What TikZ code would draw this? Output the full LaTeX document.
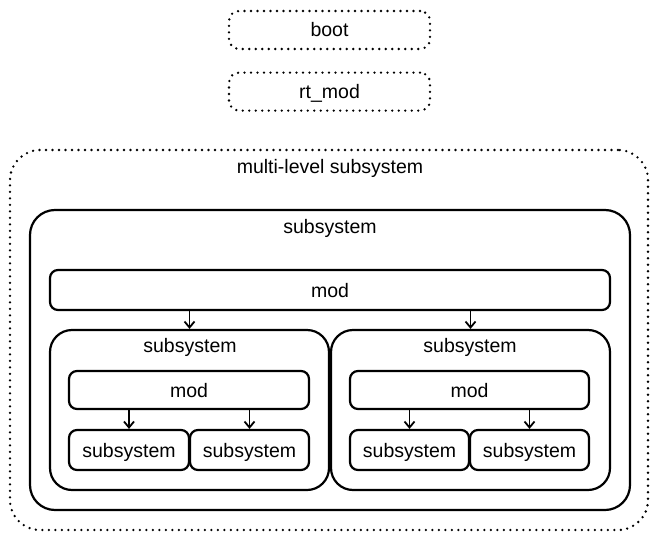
\documentclass[tikz,border=0pt]{standalone}
\usepackage{fontspec}
\setmainfont{Liberation Sans}
\usetikzlibrary{positioning,arrows.meta}

\tikzset{
	box/.style={draw, line width=2.2pt, rounded corners=#1, inner sep=0pt, text height=16pt, text depth=2pt},
	box/.default=8pt,
	dotbox/.style={draw, line width=2.6pt, line cap=round, dash pattern=on 0pt off 6.5pt, rounded corners=#1, inner sep=0pt, text height=16pt, text depth=2pt},
	dotbox/.default=10pt,
	lbl/.style={inner sep=0pt, text height=16pt, text depth=2pt},
	link/.style={line width=1.8pt, -{Straight Barb[length=6pt, width=10pt]}},
}

\begin{document}
\begin{tikzpicture}[x=1pt, y=-1pt, font=\fontsize{19.5}{22}\selectfont]
	\useasboundingbox (0,0) rectangle (660,540);

	% top modules
	\node[dotbox, minimum width=201pt, minimum height=38pt] (boot) at (329.5,30) {boot};
	\node[dotbox, minimum width=201pt, minimum height=38pt, below=21pt of boot] (rtmod) {rt\_mod};

	% containers
	\node[dotbox=30pt, minimum width=638pt, minimum height=380pt] (multi) at (329,340) {};
	\node[lbl] (multilbl) at (330,166) {multi-level subsystem};
	\node[box=25pt, minimum width=600pt, minimum height=300pt] (sub) at (330,360) {};
	\node[lbl] (sublbl) at (330,226) {subsystem};
	\node[box, minimum width=560pt, minimum height=40pt] (mod) at (330,290) {mod};

	% second level
	\node[box=22pt, minimum width=279pt, minimum height=160pt] (subL) at (189.5,410) {};
	\node[box=22pt, minimum width=279pt, minimum height=160pt] (subR) at (470.5,410) {};
	\node[lbl] (subLlbl) at (190,345) {subsystem};
	\node[lbl] (subRlbl) at (470,345) {subsystem};
	\node[box, minimum width=240pt, minimum height=38pt] (modL) at (189,390) {mod};
	\node[box, minimum width=239pt, minimum height=38pt] (modR) at (469.5,390) {mod};

	% leaves
	\node[box, minimum width=120pt, minimum height=40pt] (leafLL) at (129,450) {subsystem};
	\node[box, minimum width=119pt, minimum height=40pt] (leafLR) at (249.5,450) {subsystem};
	\node[box, minimum width=119pt, minimum height=40pt] (leafRL) at (409.5,450) {subsystem};
	\node[box, minimum width=119pt, minimum height=40pt] (leafRR) at (529.5,450) {subsystem};

	% arrows
	\draw[link] (subL.north |- mod.south) -- (subL.north);
	\draw[link] (subR.north |- mod.south) -- (subR.north);
	\draw[link] (leafLL.north |- modL.south) -- (leafLL.north);
	\draw[link] (leafLR.north |- modL.south) -- (leafLR.north);
	\draw[link] (leafRL.north |- modR.south) -- (leafRL.north);
	\draw[link] (leafRR.north |- modR.south) -- (leafRR.north);
\end{tikzpicture}
\end{document}
